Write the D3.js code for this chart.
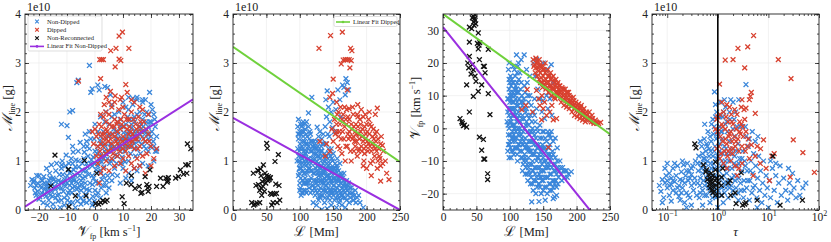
<!DOCTYPE html>
<html><head><meta charset="utf-8">
<script src="https://cdn.jsdelivr.net/npm/d3@7"></script>
<style>
body{margin:0;background:#fff;}
svg{display:block;}
text{font-family:"Liberation Serif","DejaVu Serif",serif;fill:#222;}
</style></head>
<body>
<svg id="chart" width="831" height="242"></svg>
<script>
// ---------------- DATA (M_line in units of 1e10 g) ----------------
// Panel 1: V_fp [km/s] vs M_line
const blueP1 = [[-22.5,0.62],[-22,0.57],[-21.5,0.45],[-21,0.3],[-20.5,0.38],[-20,0.22],[-19.5,0.5],[-19,0.35],[-18.5,0.15],[-18,0.42],[-17.5,0.28],[-17,0.55],[-16.5,0.2],[-16,0.65],[-15.5,0.38],[-15,0.12],[-14.5,0.48],[-14,0.8],[-13.5,0.3],[-13,0.6],[-12.5,0.05],[-12,0.45],[-11.5,0.72],[-11,0.25],[-10.5,0.9],[-10,0.55],[-9.5,0.35],[-9,0.75],[-8.5,1.05],[-8,0.15],[-7.5,0.6],[-7,0.88],[-6.5,0.42],[-6,1.2],[-5.5,0.7],[-5,0.25],[-4.5,0.95],[-4,1.3],[-3.5,0.55],[-3,0.8],[-2.5,1.1],[-2,0.4],[-1.5,1.45],[-1,0.9],[-0.5,0.65],[0,1.2],[0.5,0.3],[1,1.6],[1.5,1.0],[2,0.8],[2.5,1.35],[3,0.5],[3.5,1.8],[4,1.15],[4.5,0.7],[5,1.5],[5.5,1.0],[6,1.9],[6.5,1.25],[7,0.85],[7.5,1.6],[8,1.1],[8.5,2.0],[9,1.35],[9.5,0.95],[10,1.7],[10.5,1.2],[11,2.1],[11.5,1.45],[12,1.0],[12.5,1.85],[13,1.3],[13.5,2.15],[14,1.6],[14.5,1.1],[15,1.95],[15.5,1.4],[16,0.9],[16.5,1.75],[17,2.2],[17.5,1.3],[18,1.6],[18.5,2.0],[19,1.2],[19.5,1.8],[20,1.5],[20.5,2.05],[21,1.3],[21.5,1.7],[22,1.2],
[-23,0.5],[-21,0.5],[-19,0.6],[-17,0.4],[-15,0.65],[-13,0.45],[-11,0.55],[-9,0.5],[-7,0.7],[-5,0.6],[-3,0.95],[-1,0.7],[1,0.9],[3,1.05],[5,1.2],[7,1.3],[9,1.2],[11,1.4],[13,1.5],[15,1.6],[17,1.5],[19,1.7],
[-20,0.7],[-18,0.55],[-16,0.3],[-14,0.25],[-12,0.85],[-10,0.7],[-8,0.95],[-6,0.75],[-4,0.8],[-2,1.25],[0,0.95],[2,1.5],[4,1.45],[6,1.55],[8,1.45],[10,1.45],[12,1.6],[14,1.35],[16,1.55],[18,1.4],[20,1.8],
[-12,0.2],[-10,0.3],[-8,0.45],[-6,0.3],[-4,0.45],[-2,0.2],[0,0.4],[2,0.25],[-7,0.05],[-5,0.12],[-3,0.15],[-1,0.1],[1,0.55],[3,0.7],[5,0.45],[6,0.6],[8,0.7],[10,0.85],[12,0.75],[14,0.85],[-11,0.1],[-9,0.15],[4,0.35],[9,0.55],
[-6,1.0],[-4,1.05],[-2,1.6],[0,1.75],[2,1.9],[4,2.0],[6,2.15],[8,1.8],[10,2.2],[12,2.05],[14,1.9],[16,2.0],[18,2.25],[20,2.15],[21,1.95],[-8,1.3],[-3,1.4],[1,1.3],[3,1.6],[5,1.75],[7,1.95],[9,1.85],[11,1.75],[13,1.75],[15,2.25],[17,1.85],[19,1.45],[22,1.5],
[-21.8,0.6],[-17,0.1],[-14.8,0.02],[-12,1.75],[-10,1.72],[-9.5,1.48],[-9,2.0],[-8,2.03],[-6,2.65],[-6.5,2.6],[-3.5,1.55],[-2,2.95],[-1,2.47],[-1.5,2.4],[1,2.55],[1.5,2.45],[3.5,2.52],[4.5,2.5],[5.5,2.35],[12,2.3],[13.5,2.28],[15,2.3],[17,2.25],[19.5,2.4],[21.5,1.2],[22,1.25],
[15,0.8],[17,0.95],[19,0.9],[21,1.0],[11,0.65],[13,0.6],
[-21.3,0.35],[-20.8,0.7],[-19.7,0.27],[-19.2,0.45],[-18.3,0.68],[-17.8,0.32],[-17.3,0.85],[-16.7,0.48],[-16.2,0.75],[-15.6,0.92],[-15.2,0.28],[-14.7,0.62],[-14.2,0.42],[-13.7,0.95],[-13.2,0.18],[-12.7,0.72],[-12.2,0.58],[-11.7,1.0],[-11.3,0.38],[-10.8,0.62],[-10.3,1.12],[-9.8,0.2],[-9.3,0.95],[-8.8,0.62],[-8.3,0.35],[-7.8,1.18],[-7.3,0.48],[-6.8,1.02],[-6.3,0.18],[-5.8,0.88],[-5.3,1.38],[-4.8,0.52],[-4.3,0.65],[-3.8,1.18],[-3.3,0.32],[-2.8,1.3],[-2.3,0.72],[-1.8,0.55],[-1.3,1.02],[-0.8,0.28],[-0.3,1.45],[0.2,0.58],[0.7,1.15],[1.2,0.78],[1.7,1.42],[2.2,0.45],[2.7,1.1],[3.2,0.88],[3.7,1.3],[4.2,0.6],[4.7,1.52],[5.2,0.95],[5.7,1.28],[6.2,0.72],[6.7,1.65],[7.2,1.12],[7.7,0.95],[8.2,1.55],[8.7,1.25],[9.2,1.7],[9.7,1.08],[10.2,1.58],[10.7,0.98],[11.2,1.3],[11.7,1.9],[12.2,1.45],[12.7,1.15],[13.2,1.68],[13.7,1.4],[14.2,1.8],[14.7,1.5],[15.2,1.25],[15.7,1.7],[16.2,1.15],[16.7,1.35],[17.2,1.7],[17.7,1.95],[18.2,1.25],[18.7,1.55],[19.2,1.95],[19.7,1.3],[20.3,1.6],[20.8,1.4],[21.3,1.85],
[-20.5,0.55],[-18.8,0.6],[-17.6,0.48],[-16.4,0.6],[-15.4,0.52],[-14.1,0.58],[-12.9,0.32],[-11.9,0.92],[-10.6,0.48],[-9.6,0.82],[-8.6,0.78],[-7.6,0.82],[-6.6,0.58],[-5.6,0.5],[-4.6,0.82],[-3.6,0.68],[-2.6,0.88],[-1.6,0.95],[-0.6,1.08],[0.4,0.82],[1.4,1.18],[2.4,0.98],[3.4,1.2],[4.4,1.05],[5.4,1.35],[6.4,1.02],[7.4,1.45],[8.4,1.3],[9.4,1.45],[10.4,1.3],[11.4,1.55],[12.4,1.3],[13.4,1.55],[14.4,1.25],[15.4,1.5],[16.4,1.65],[17.4,1.6],[18.4,1.8],[19.4,1.55],
[-9,0.4],[-7.9,0.62],[-5,0.4],[-2.9,0.42],[-0.9,0.52],[1.1,0.35],[-4.2,0.18],[-0.2,0.18],[2.5,0.62],[3.8,0.5],[-6.1,0.45],[-8.4,0.55]];
const redP1 = [[9.8,3.63],[8.6,3.55],[5.6,3.25],[7.5,3.3],[12.1,3.3],[1.7,3.07],[2.4,3.07],[3.0,3.07],[8.6,3.08],[9.2,3.05],[7.2,2.92],[2.0,2.68],[-5.9,2.63],[11,2.56],[7.2,2.33],[5.5,2.42],[4,2.3],[3.3,2.15],[9,2.25],[14,2.2],[16,2.1],
[0.5,1.5],[1,1.3],[1.5,1.75],[2,1.1],[2.5,1.55],[3,1.9],[3.5,1.35],[4,1.65],[4.5,1.2],[5,1.95],[5.5,1.45],[6,1.7],[6.5,1.15],[7,1.85],[7.5,1.4],[8,1.6],[8.5,2.05],[9,1.3],[9.5,1.75],[10,1.5],[10.5,1.95],[11,1.2],[11.5,1.65],[12,1.85],[12.5,1.4],[13,2.0],[13.5,1.55],[14,1.25],[14.5,1.75],[15,1.45],[15.5,1.9],[16,1.3],[16.5,1.6],[17,1.1],[17.5,1.8],[18,1.4],[18.5,1.15],[19,1.55],[20,1.3],[21,1.05],[22,1.25],
[1,0.95],[2,0.75],[1.5,0.55],[3,0.85],[4,1.0],[5,0.8],[6,1.05],[7,0.9],[8,1.1],[9,0.95],[10,1.05],[11,0.8],[12,1.1],[13,0.95],[14,0.85],[15,1.05],[16,0.9],[18,0.75],[20,0.9],[19,1.95],[17,2.05],[10,2.1],[6,2.1],[4,1.8],[2,1.95],[0,1.65],[-1,1.6],[-0.5,1.35],[0.5,1.1],[3,1.45],[5,1.55],[7,1.5],[9,1.65],[11,1.45],[13,1.3],[6,1.35],[8,1.35],[10,1.25],[12,1.55],[8,1.8],[14,1.5],[16,1.7],[2,1.35],[4,1.45],
[1.2,1.55],[1.8,1.2],[2.3,1.7],[2.8,1.3],[3.3,1.55],[3.8,1.15],[4.3,1.6],[4.8,1.4],[5.3,1.75],[5.8,1.25],[6.3,1.55],[6.8,1.7],[7.3,1.25],[7.8,1.75],[8.3,1.45],[8.8,1.2],[9.3,1.85],[9.8,1.4],[10.3,1.7],[10.8,1.35],[11.3,1.85],[11.8,1.3],[12.3,1.7],[12.8,1.6],[13.3,1.4],[13.8,1.85],[14.3,1.45],[14.8,1.65],[15.3,1.25],[15.8,1.55],[16.3,1.8],[17.3,1.45],[18.3,1.65],[19.3,1.4],[9.5,2.3],[11.5,2.4],[13,2.25],[7,2.2],[5,2.2],[3.8,2.0]];
const blackP1 = [[-14.3,1.12],[-15.8,0.49],[-9.5,0.83],[-7,0.29],[-3.2,0.29],[-9.3,0.07],[-3.8,1.01],[0.6,0.75],[0.2,0.13],[1.3,0.12],[2,0.15],[2.8,0.19],[3.6,0.17],[4.3,0.2],[9.7,0.27],[10.4,0.13],[11.2,0.55],[13,0.7],[12.9,0.52],[14.3,0.44],[15.8,0.48],[16.4,0.34],[16.8,0.36],[17.9,0.68],[18.8,0.45],[19,0.38],[18.5,0.52],[19.6,0.82],[19.3,0.48],[22,0.48],[23.4,0.65],[24.3,0.48],[25.3,0.65],[26,0.6],[26.2,0.66],[25.8,0.57],[28.8,0.65],[29.8,0.68],[30.5,0.82],[31.6,0.73],[32.4,0.92],[33.3,0.92],[33,1.35],[34.2,1.25],[32.8,0.75]];
const fitNonDippedP1 = [[-25,0.07],[35,2.26]];

// Panel 2: L [Mm] vs M_line
const blueP2 = [[97,1.7],[98,1.45],[99,1.2],[100,0.95],[101,1.75],[102,1.55],[103,1.3],[104,1.05],[105,0.8],[106,1.6],[107,1.4],[108,1.15],[109,0.9],[110,1.8],[111,1.5],[112,1.25],[98,0.7],[100,0.55],[102,0.85],[104,0.6],[106,0.4],[108,0.65],[110,0.35],[112,0.55],[99,1.0],[101,1.25],[103,1.6],[105,1.5],[107,1.1],[109,1.35],[111,1.0],[100,1.6],[102,1.1],[104,1.4],[106,1.2],[108,0.95],[110,1.2],[97,1.25],[99,0.75],[101,0.45],[103,0.35],[105,1.8],[107,0.75],[109,0.55],[111,0.8],[113,1.7],[114,0.45],[96,1.0],
[113,1.3],[114,1.05],[115,0.85],[116,1.55],[117,0.65],[118,1.2],[119,0.4],[120,1.0],[121,1.4],[122,0.75],[123,0.3],[124,1.15],[125,0.55],[126,0.9],[127,1.3],[128,0.2],[129,0.7],[130,1.05],[131,0.45],[132,0.85],[133,1.2],[134,0.3],[135,0.6],[136,1.0],[137,0.15],[138,0.8],[139,1.35],[140,0.5],[141,0.95],[142,0.25],[143,0.7],[144,1.15],[145,0.4],[146,0.85],[147,0.1],[148,0.6],[149,1.0],[150,0.3],
[115,1.6],[117,1.4],[119,1.05],[121,0.6],[123,0.95],[125,1.25],[127,0.5],[129,1.1],[131,0.75],[133,0.55],[135,0.95],[137,0.65],[139,0.4],[141,0.7],[143,0.45],[145,0.95],[147,0.55],[149,0.35],
[116,0.35],[118,0.8],[120,0.5],[122,1.25],[124,0.85],[126,0.35],[128,0.95],[130,0.25],[132,1.3],[134,0.75],[136,0.4],[138,1.05],[140,0.85],[142,0.55],[144,0.3],[146,0.6],[148,0.85],[150,0.65],
[151,0.5],[152,0.2],[153,0.75],[154,0.4],[155,0.05],[156,0.6],[157,0.3],[158,0.5],[159,0.15],[160,0.7],[161,0.35],[162,0.55],[163,0.1],[164,0.45],[165,0.25],[166,0.6],[167,0.35],[168,0.05],[169,0.5],[170,0.2],[171,0.4],[172,0.3],[174,0.15],[175,0.45],[176,0.25],[178,0.35],[180,0.2],[182,0.3],[184,0.15],[186,0.25],[190,0.15],[195,0.05],[152,0.85],[155,0.9],[158,0.8],[160,0.95],[163,0.7],[166,0.75],[170,0.6],[173,0.55],[156,1.05],[150,1.15],[153,0.95],[147,1.25],
[118,2.3],[113,1.98],[126,1.69],[130,1.6],[135,1.55],[138,1.7],[140,1.9],[139,2.25],[141,2.43],[143,2.1],[145,1.8],[147,2.0],[149,1.68],[150,2.2],[152,1.6],[154,2.05],[157,2.45],[160,2.25],[164,2.55],[166,2.5],[169,2.68],[171,2.6],[173,2.45],[168,2.35],[162,1.9],[144,1.5],[136,1.35],[142,1.55],[133,1.45],[128,1.5],
[130,0.28],[133,0.01],[141,0.03],[180,0.2],[120,0.15],[125,0.1],
[97.5,1.55],[98.5,1.1],[99.5,0.85],[100.5,1.35],[101.5,0.65],[102.5,1.7],[103.5,0.95],[104.5,1.25],[105.5,0.55],[106.5,1.0],[107.5,1.75],[108.5,0.4],[109.5,1.55],[110.5,0.75],[111.5,1.35],[112.5,0.95],[98,1.85],[100,0.4],[102,0.3],[104,1.75],[106,0.75],[108,1.65],[110,0.55],[112,1.05],[99,1.55],[101,0.85],[103,1.1],[105,0.35],[107,0.55],[109,1.15],[111,0.6],[113,0.85],
[114,1.45],[115,0.6],[116,1.2],[117,0.95],[118,0.5],[119,1.3],[120,0.75],[121,1.15],[122,0.45],[123,1.3],[124,0.6],[125,1.0],[126,1.4],[127,0.75],[128,1.2],[129,0.4],[130,0.85],[131,1.2],[132,0.6],[133,0.9],[134,1.1],[135,0.4],[136,0.75],[137,1.15],[138,0.5],[139,0.85],[140,1.1],[141,0.35],[142,0.9],[143,1.25],[144,0.65],[145,0.2],[146,1.1],[147,0.75],[148,0.4],[149,0.8],[150,0.5],[151,0.85],[152,0.4],[153,0.6],[154,0.8],[155,0.35],[156,0.45],[157,0.7],[158,0.25],[159,0.6],[160,0.4],[161,0.55],[162,0.3],[164,0.65],[165,0.5],[167,0.55],[168,0.25],[170,0.45],[172,0.5],[174,0.35],[177,0.45],[179,0.3],[183,0.4],[188,0.3],
[116,0.8],[118,1.4],[120,1.3],[122,1.05],[124,0.4],[126,0.6],[128,0.7],[130,0.6],[132,0.3],[134,1.35],[136,0.55],[138,0.25],[140,0.7],[142,1.05],[144,0.85],[146,0.35],[148,1.05],[150,0.85],[152,0.65],[154,0.25],[156,0.85],[158,0.65],[160,0.2],[162,0.75],[164,0.3],[166,0.4],[145,0.65],[135,0.8],[125,0.8],[127,1.1],[133,0.7],[139,0.6]];
const redP2 = [[146,3.56],[163.7,3.63],[128.7,3.3],[176,3.3],[178,3.25],[165,3.06],[168,3.07],[171,3.07],[174,3.07],[177,3.05],[175,2.9],[162,2.98],[150,2.67],[171,2.45],[149,2.38],[145,2.3],[155,2.2],[161,2.1],[173.7,2.07],[186.7,2.15],[216,2.08],[213,1.95],[223.6,1.32],[217,1.0],[221,0.9],[233.5,0.62],[221,0.59],[207,0.7],[200,0.85],[195,0.9],[140,1.35],[145,1.2],[138,1.1],[150,1.4],[158,1.5],[130,1.4],
[152,1.85],[155,1.6],[158,2.0],[160,1.75],[162,1.45],[165,1.95],[167,1.7],[169,1.3],[170,2.05],[172,1.55],[174,1.85],[176,1.2],[178,1.65],[180,1.95],[182,1.4],[184,1.75],[186,1.1],[188,1.55],[190,1.85],[192,1.3],[194,1.65],[196,1.0],[198,1.45],[200,1.75],[202,1.2],[204,1.55],[206,0.95],[208,1.35],[210,1.65],[212,1.1],[214,1.4],[216,0.85],[218,1.25],[220,1.05],[222,1.5],[225,1.2],[228,1.0],[230,0.75],
[157,1.3],[163,1.15],[168,1.0],[173,1.45],[177,1.0],[181,1.2],[185,1.4],[189,1.25],[193,1.5],[197,1.15],[201,1.4],[205,1.3],[209,1.5],[213,1.25],[179,2.1],[183,1.6],[187,1.9],[191,1.6],[195,1.9],[199,1.55],[203,1.85],[207,1.7],[211,1.45],[215,1.6],[186,1.95],[192,2.05],[198,1.95],[204,2.0],[170,1.75],[175,1.5],[164,1.6],[160,1.25],[153,1.55],[148,1.65],[156,1.95],
[155,1.75],[159,1.6],[163,1.85],[166,1.45],[169,1.85],[171,1.3],[174,1.6],[177,1.75],[179,1.45],[181,1.7],[183,1.3],[185,1.55],[187,1.7],[189,1.45],[191,1.75],[193,1.2],[195,1.4],[197,1.7],[199,1.3],[201,1.6],[203,1.35],[205,1.75],[207,1.2],[209,1.0],[211,1.3],[213,1.55],[215,1.2],[217,1.45],[219,1.1],[221,1.35],[224,0.95],[196,1.25],[188,1.2],[180,1.5],[172,1.9],[167,2.1]];
const blackP2 = [[50.4,1.36],[51.4,1.26],[67.9,1.13],[62.9,0.99],[45.4,0.92],[41.4,0.84],[37,0.81],[30.4,0.75],[48,0.75],[50,0.7],[53,0.68],[55,0.65],[52,0.6],[47,0.62],[44,0.58],[49,0.55],[54,0.62],[56,0.66],[64,0.53],[68.9,0.5],[45,0.48],[42,0.45],[38,0.52],[34.4,0.5],[40,0.4],[47,0.38],[43,0.3],[58,0.32],[62,0.33],[65,0.34],[56,0.34],[60,0.15],[66,0.15],[70,0.2],[28,0.15],[31,0.1],[33,0.12],[36,0.14],[40,0.15],[58,0.1],[38,0.8],[42,0.7]];
const fitNonDippedP2 = [[0,1.88],[250,0.0]];
const fitDippedP2 = [[0,3.33],[250,0.98]];

// Panel 3: L [Mm] vs V_fp [km/s]
const blueP3 = [[97,5],[98,-2],[99,12],[100,8],[101,-6],[102,2],[103,15],[104,10],[105,-4],[106,4],[107,18],[108,0],[109,13],[110,7],[111,-8],[112,3],[113,20],[114,9],[97,-7],[99,0],[101,6],[103,-3],[105,11],[107,1],[109,-1],[111,14],[113,5],[98,9],[100,-4],[102,13],[104,-1],[106,8],[108,16],[110,-3],[112,11],[114,-5],[99,4],[101,16],[103,6],[105,1],[107,-6],[109,9],[111,3],[113,-2],[100,14],[102,-9],[104,4],[106,-8],[108,6],[110,12],[112,-6],[96,2],[98,18],[110,22.5],[99,20],[105,19],[115,17],[117,21],[121.5,22.5],[112,19],
[115,0],[116,-4],[117,8],[118,-7],[119,4],[120,-1],[121,-10],[122,6],[123,-3],[124,-12],[125,2],[126,-6],[127,10],[128,-9],[129,-2],[130,-14],[131,4],[132,-7],[133,-11],[134,0],[135,-4],[136,-16],[137,-8],[138,2],[139,-12],[140,-5],[141,-18],[142,-1],[143,-9],[144,-14],[145,-3],[146,-7],[147,-20],[148,-11],[149,-5],[150,-16],
[115,6],[117,-2],[119,-9],[121,3],[123,-6],[125,-10],[127,-1],[129,-13],[131,-4],[133,-8],[135,-13],[137,-2],[139,-16],[141,-9],[143,-5],[145,-12],[147,-15],[149,-8],[116,12],[118,3],[120,-5],[122,-8],[124,1],[126,-14],[128,-4],[130,-7],[132,-1],[134,-10],[136,-5],[138,-14],[140,-10],[142,-6],[144,-17],[146,-13],[148,-3],[150,-9],[118,10],[120,8],[125,6],[128,8],[122,13],[130,10],[135,5],[126,4],[132,7],
[151,-13],[152,-18],[153,-6],[154,-10],[155,-15],[156,-20],[157,-8],[158,-12],[159,-17],[160,-5],[161,-10],[162,-14],[163,-19],[164,-7],[165,-11],[166,-16],[167,-21],[168,-9],[169,-13],[170,-18],[171,-6],[172,-12],[173,-15],[175,-10],[177,-14],[179,-12],[182,-15],[185,-13],[188,-14],[192,-13.3],[155,-4],[158,-2],[162,-1],[165,-4],[168,-3],[170,-20.5],[165,-21.5],[160,-19],[143.7,-22.4],[132.8,-22.5],[153,-22],[158,-9],[151,-1],
[145,9],[150,8.5],[155,10],[160,9],[148,5],[152,3],[157,6],[163,4],[160,-2],[140,6],[137,9],[142,12],[130,16],[125,18],[135,20],[140,21],[145,19],[150,20],[155,18],[158,16],[162,19.5],[138,16],[165,14],
[97.5,1],[98.5,6],[99.5,-5],[100.5,10],[101.5,3],[102.5,-7],[103.5,8],[104.5,-3],[105.5,14],[106.5,0],[107.5,5],[108.5,-4],[109.5,11],[110.5,2],[111.5,-10],[112.5,7],[113.5,15],[114.5,-1],[98,-5],[100,2],[102,9],[104,14],[106,-2],[108,10],[110,-6],[112,0],[114,4],[99,-9],[101,11],[103,1],[105,-7],[107,12],[109,4],[111,8],[113,-5],[97,9],[99,15],[101,-2],[103,10],[105,6],[107,-3],[109,-6],[111,17],[113,11],
[115,-7],[116,2],[117,-9],[118,-3],[119,7],[120,-11],[121,-4],[122,0],[123,-9],[124,5],[125,-5],[126,-11],[127,-7],[128,1],[129,-6],[130,-11],[131,-1],[132,-15],[133,-4],[134,-13],[135,-8],[136,-1],[137,-12],[138,-7],[139,-3],[140,-15],[141,-6],[142,-12],[143,-17],[144,-8],[145,-15],[146,-10],[147,-6],[148,-16],[149,-13],[150,-6],[151,-10],[152,-15],[153,-12],[154,-7],[155,-18],[156,-12],[157,-15],[158,-6],[159,-11],[160,-14],[161,-17],[162,-9],[163,-12],[164,-16],[165,-8],[166,-13],[167,-17],[168,-11],[169,-16],[170,-14],[171,-10],[172,-17],[174,-13],[176,-12],[178,-16],[180,-13],[183,-13],[186,-15],[119,-13],[123,-14],[127,-16],[131,-17],[135,-19],[139,-20],[145,-18],[150,-19],[155,-11],[160,-8],[165,-18],[121,9],[123,11],[117,14],[119,-5],[129,3],[133,2],[137,4],[141,0],[145,1],[149,-1],[153,-3],[157,-1],[161,-3],[126,14],[128,-12],[134,-17]];
const redP3 = [[135,21],[137,19.5],[138,17],[140,20],[141,16],[142,18.5],[144,15],[145,19.5],[146,17],[148,14],[149,18],[150,16],[152,13.5],[153,17],[154,15],[156,12.5],[157,16],[158,14],[160,11.5],[161,15],[162,13],[164,12],[165,14.5],[166,10.5],[168,13],[169,11],[170,12.5],[172,10],[173,12],[174,11],[176,9.5],[177,11.5],[178,10.5],[180,12],[181,9],[182,10.5],[184,8.5],[185,11],[186,9.5],[188,7.5],[189,10],[190,8],[192,7],[193,9],[194,8],[196,6],[197,7.5],[198,6.5],[200,5.5],[201,7],[202,6],[204,4.5],[205,6],[206,5],[208,4],[209,5.5],[210,4],[212,3.5],[213,4.5],[215,3],[216,4],[218,2.5],[220,3.5],[222,2],[224,3],[226,1.5],[228,2.5],[230,1.5],[233,1.5],[236,1.8],
[139,21.5],[143,20],[147,19],[151,18],[155,17.5],[159,16],[163,15.5],[167,14],[171,13.5],[175,13],[179,12],[183,12],[187,11],[191,9.5],[195,9.5],[199,8],[203,7.5],[207,7],[211,6],[215,5],[219,5],[223,4],[177,8],[181,7],[185,6.5],[189,6],[193,5],[197,4],[201,3.5],[205,3],[209,2.5],[213,2],
[140,11.6],[126,11.9],[118,5.7],[150,6],[147.6,2.6],[165,2.6],[157.7,-5.8],[145,7],[152,8],[148,10],[160,5],[163,7],[155,4],[168,9],[143,9],[134,5],[124,7],[170,3],
[136,19],[139,18.5],[141,20.5],[143,17.5],[144,21],[147,15.5],[150,19],[151,14.5],[153,20],[155,14],[157,18],[159,13],[161,17],[163,12.5],[165,16],[167,12],[169,15],[171,11],[172,14],[174,13],[176,11],[178,12.5],[180,10],[183,9.5],[186,8],[188,11],[191,8.5],[194,7],[196,8.5],[199,6.5],[203,5.5],[206,6.5],[210,5],[214,3.5],[217,3],[221,2.5],[225,2],[229,2],[146,14],[149,12.5],[154,12],[158,11],[162,10],[167,9.5]];
const blackP3 = [[45.4,34.3],[47,33.5],[48,33],[46,32.5],[49,32],[44,33.8],[47.5,34.8],[46.5,31.5],[39.5,31],[43,30.5],[52.8,29.2],[39.5,26.4],[51.5,26],[54,25.5],[55,26.2],[52.8,24.3],[67.8,24.2],[39.5,22],[37,20],[54.5,21],[44,19.5],[60.5,19],[62,19],[38.5,18.5],[45.4,17.9],[42,16.6],[48,16],[63,17],[49.4,14.4],[57.9,13.3],[35.4,13.3],[52.8,11.3],[45.4,9.8],[67.8,10.6],[39.5,5],[70.3,4.2],[25.5,3],[28,2],[29,1.5],[30.5,0.8],[32,1],[35.4,0.4],[54.5,-2.7],[57.9,-6.7],[60.5,-3.4],[61,-9.4],[62.5,-9.4],[66.8,-13.9],[66.8,-15.7]];
const fitNonDippedP3 = [[0,31],[250,-32.7]];
const fitDippedP3 = [[0,35],[250,-1.8]];

// Panel 4: tau vs M_line
const blueP4 = [[0.07,0.5],[0.075,0.38],[0.08,0.62],[0.085,0.25],[0.09,0.55],[0.095,0.7],[0.1,0.45],[0.1,0.6],[0.11,0.3],[0.11,0.75],[0.12,0.52],[0.12,0.65],[0.13,0.4],[0.13,0.85],[0.14,0.58],[0.15,0.7],[0.15,0.35],[0.16,0.9],[0.17,0.5],[0.18,0.62],[0.18,0.2],[0.19,0.78],[0.2,0.45],[0.21,0.92],[0.22,0.55],[0.23,0.7],[0.24,0.35],[0.25,0.95],[0.26,0.6],[0.27,0.8],[0.28,0.25],[0.3,0.5],[0.3,0.72],[0.32,0.9],[0.33,0.4],[0.35,0.65],[0.36,1.0],[0.38,0.3],[0.1,0.95],[0.08,0.15],[0.12,0.18],[0.22,0.15],[0.17,0.28],[0.14,0.95],[0.09,0.85],[0.26,0.3],[0.2,1.0],
[0.4,0.55],[0.41,0.8],[0.42,1.1],[0.43,0.25],[0.45,0.65],[0.46,0.95],[0.48,1.3],[0.5,0.4],[0.5,0.75],[0.52,1.05],[0.54,1.45],[0.55,0.5],[0.56,0.85],[0.58,1.2],[0.6,0.3],[0.6,0.65],[0.62,1.0],[0.64,1.6],[0.65,0.45],[0.67,0.8],[0.68,1.25],[0.7,0.15],[0.7,0.6],[0.72,0.95],[0.74,1.4],[0.75,1.75],[0.77,0.35],[0.78,0.7],[0.8,1.1],[0.82,1.55],[0.84,0.5],[0.86,0.85],[0.88,1.3],[0.9,1.9],[0.92,0.25],[0.94,0.65],[0.96,1.05],[0.98,1.6],[0.86,2.41],[0.55,1.75],[0.45,1.4],[0.62,1.3],[0.9,2.15],[0.95,2.0],
[1.02,0.4],[1.05,0.8],[1.08,1.2],[1.1,1.7],[1.12,2.2],[1.15,0.3],[1.18,0.65],[1.2,1.0],[1.22,1.45],[1.25,1.9],[1.28,0.15],[1.3,0.55],[1.33,0.9],[1.36,1.3],[1.4,1.75],[1.42,2.1],[1.45,0.45],[1.5,0.75],[1.52,1.15],[1.55,1.6],[1.6,0.25],[1.62,0.6],[1.65,1.0],[1.7,1.4],[1.75,1.85],[1.8,2.25],[1.85,0.5],[1.9,0.85],[1.95,1.25],[2.0,1.65],[2.05,0.3],[2.1,0.7],[2.15,1.1],[2.2,1.5],[2.25,2.0],[2.3,0.45],[2.4,0.9],[2.5,1.35],[2.55,0.2],[2.6,0.65],[2.7,1.05],[2.8,1.7],[2.9,0.4],[3.0,0.8],[1.15,1.6],[1.35,2.25],[2.0,2.2],[2.6,2.25],
[3.1,1.2],[3.2,0.25],[3.3,0.6],[3.4,1.0],[3.6,2.56],[3.6,1.5],[3.7,0.45],[3.8,0.8],[4.0,1.3],[4.2,0.2],[4.3,0.6],[4.5,1.0],[4.7,0.35],[4.9,0.75],[5.1,1.15],[5.4,0.5],[5.6,0.9],[5.9,0.25],[6.1,0.65],[6.4,1.1],[6.7,0.4],[7.0,0.8],[7.4,0.15],[7.7,0.55],[8.0,1.0],[8.5,0.3],[9.0,0.7],[9.5,0.45],[3.5,1.7],[4.2,1.45],[4.8,1.6],[5.5,1.4],[6.2,1.5],
[10.5,0.6],[11,0.25],[12,0.85],[13,0.4],[14,0.7],[15,0.15],[16,0.55],[17,0.9],[18,0.3],[20,0.65],[22,0.4],[24,0.2],[26,0.55],[28,0.35],[30,0.75],[35,0.25],[38,0.6],[42,0.3],[48,0.45],[55,0.55],[14,0.95],[11,1.0],[25,0.85],[32,0.45],
[0.3,0.1],[0.5,0.1],[1.0,0.05],[6,0.05],[10,0.05],[0.24,0.05],
[0.45,0.35],[0.48,0.85],[0.5,1.15],[0.52,0.6],[0.55,0.3],[0.58,0.95],[0.6,1.35],[0.62,0.55],[0.65,0.75],[0.67,1.1],[0.7,0.4],[0.72,1.2],[0.75,0.85],[0.78,0.25],[0.8,0.55],[0.82,0.95],[0.85,1.2],[0.88,0.4],[0.9,0.7],[0.93,1.45],[0.96,0.3],[1.0,1.1],[1.05,0.55],[1.1,1.35],[1.15,0.9],[1.2,0.45],[1.25,1.15],[1.3,0.7],[1.35,0.35],[1.4,1.0],[1.45,1.25],[1.5,0.55],[1.6,0.85],[1.7,0.45],[1.8,1.15],[1.9,0.65],[2.0,0.4],[2.1,0.95],[2.2,0.6],[2.35,1.2],[2.5,0.35],[2.6,0.95],[2.8,0.55],[3.0,1.05],[3.3,0.4],[3.5,0.9],[3.9,0.6],[4.4,0.8],[5,0.45],[0.3,0.85],[0.34,0.55],[0.28,0.65],[0.24,0.8],[0.2,0.6],[0.16,0.45],[0.13,0.6],[0.11,0.5],[0.19,0.35],[0.4,0.95],[0.44,0.5],[1.0,1.5],[1.1,1.9],[1.2,1.6],[1.3,2.0],[1.5,1.8],[1.7,2.0],[0.85,1.7],[0.8,1.85],[0.7,1.5],[2.1,1.85],[2.4,1.7],[0.55,1.05]];
const redP4 = [[5.1,3.56],[3.9,3.33],[2.5,3.3],[1.4,3.06],[2.0,3.07],[15.7,3.07],[3.4,2.9],[28,2.68],[1.08,2.57],[31,1.43],[48,1.17],[81,0.77],[27,0.67],[5.5,1.97],[4.4,2.32],[4.6,2.4],[4.2,2.25],[8,1.43],[11.7,1.1],[6.9,0.95],[5,0.7],[10.5,0.6],[13,1.15],[9,0.85],[6,1.3],[7,1.25],[5.5,1.1],[4.6,1.33],[3.3,2.05],[3.6,2.08],[3,2.25],
[0.95,1.85],[1.0,1.6],[1.05,1.3],[1.1,1.95],[1.12,1.5],[1.15,1.15],[1.2,1.75],[1.25,1.4],[1.3,2.0],[1.35,1.2],[1.4,1.65],[1.45,1.9],[1.5,1.35],[1.55,1.1],[1.6,1.8],[1.65,1.5],[1.7,2.1],[1.75,1.25],[1.8,1.6],[1.85,1.95],[1.9,1.4],[1.95,1.15],[2.0,1.75],[2.1,1.5],[2.15,2.05],[2.2,1.3],[2.3,1.65],[2.4,1.95],[2.5,1.45],[2.6,1.2],[2.7,1.8],[2.8,1.55],[2.9,2.1],[3.0,1.3],[3.1,1.7],[3.2,1.5],[3.4,1.85],[3.6,1.6],[3.8,1.3],[4.0,1.45],[4.2,1.05],[1.1,1.05],[1.3,0.95],[1.5,0.85],[1.8,1.0],[2.2,0.9],[2.6,0.85],[3.0,0.95],[2.4,0.7],[1.2,2.2],[1.5,2.15],[1.0,1.9],[0.95,1.25],[0.9,1.65],[1.25,1.7],[1.6,1.2],[1.9,1.8],[2.3,1.4],[2.7,1.6],[1.4,1.45],[1.7,1.55],[2.0,1.25],[3.5,1.2],[2.9,1.75]];
const blackP4 = [[0.35,1.35],[0.37,1.27],[0.52,0.92],[0.6,0.82],[0.66,0.72],[0.7,0.65],[0.72,0.58],[0.75,0.62],[0.78,0.55],[0.8,0.7],[0.82,0.48],[0.7,0.45],[0.76,0.4],[0.85,0.38],[0.88,0.6],[0.9,0.82],[0.9,0.98],[0.92,0.5],[0.68,0.52],[0.74,0.75],[0.8,0.35],[0.95,0.65],[1.19,0.67],[1.18,0.5],[1.2,0.3],[0.9,0.3],[1.25,0.85],[2.2,0.35],[1.8,0.3],[2.3,0.13],[2.9,0.76],[3.1,0.1],[3.4,0.12],[3.6,0.15],[12.3,1.1],[17,0.1],[47,0.2],[6,0.2],[1.6,0.55],[1.75,0.6],[0.62,0.62],[0.58,0.78],[1.05,0.55]];
const tauThreshold = 1;

// Axis ticks
const yTicksM = [0,1,2,3,4];
const xTicksV = [-20,-10,0,10,20,30];
const xTicksL = [0,50,100,150,200,250];
const yTicksV = [-20,-10,0,10,20,30];
const xTicksTau = [0.1,1,10,100];

const legendLabels1 = ["Non-Dipped","Dipped","Non-Reconnected","Linear Fit Non-Dipped"];
const legendLabels2 = ["Linear Fit Dipped"];

// ---------------- STYLE ----------------
const C = {blue:"#3a86da", red:"#d8412f", black:"#111111", purple:"#9a2fe0", green:"#6fd13b"};
const TOP = 14, BOT = 210;
const svg = d3.select("#chart");
const xMark = "M-2.4,-2.4L2.4,2.4M-2.4,2.4L2.4,-2.4";

function range(a,b,s){const r=[];for(let v=a;v<=b+1e-9;v+=s)r.push(+v.toFixed(6));return r;}

function panel(cfg, idx){
  const x = cfg.log ? d3.scaleLog().domain(cfg.xDom).range([cfg.left,cfg.right])
                    : d3.scaleLinear().domain(cfg.xDom).range([cfg.left,cfg.right]);
  const y = d3.scaleLinear().domain(cfg.yDom).range([BOT,TOP]);
  const g = svg.append("g");
  const cid = "clip"+idx;
  g.append("clipPath").attr("id",cid).append("rect")
    .attr("x",cfg.left).attr("y",TOP).attr("width",cfg.right-cfg.left).attr("height",BOT-TOP);
  const grid = g.append("g").attr("stroke","#ececec").attr("stroke-width",0.7);
  cfg.xTicks.forEach(t=>{ if(x(t)>cfg.left+1 && x(t)<cfg.right-1) grid.append("line").attr("x1",x(t)).attr("x2",x(t)).attr("y1",TOP).attr("y2",BOT);});
  cfg.yTicks.forEach(t=>{ if(y(t)>TOP+1 && y(t)<BOT-1) grid.append("line").attr("x1",cfg.left).attr("x2",cfg.right).attr("y1",y(t)).attr("y2",y(t));});

  const pts = g.append("g").attr("clip-path",`url(#${cid})`);
  const drawSet = (data,color)=>{
    pts.append("g").attr("stroke",color).attr("stroke-width",1.3).attr("fill","none")
      .selectAll("path").data(data).join("path")
      .attr("d",xMark).attr("transform",d=>`translate(${x(d[0])},${y(d[1])})`);
  };
  drawSet(cfg.blue,C.blue); drawSet(cfg.red,C.red); drawSet(cfg.black,C.black);
  const line = d3.line().x(d=>x(d[0])).y(d=>y(d[1]));
  (cfg.fits||[]).forEach(f=>{
    pts.append("path").attr("d",line(f.data)).attr("stroke",f.color).attr("stroke-width",2).attr("fill","none");
  });
  if(cfg.vline){
    pts.append("line").attr("x1",x(cfg.vline)).attr("x2",x(cfg.vline)).attr("y1",TOP).attr("y2",BOT)
      .attr("stroke","#000").attr("stroke-width",1.6);
  }

  const styleAxis = sel=>{ sel.select(".domain").remove(); sel.selectAll(".tick line").attr("stroke","#222").attr("stroke-width",0.8);
    sel.selectAll("text").attr("font-family","Liberation Serif, serif").attr("font-size",11.5).attr("fill","#222"); };
  const bx = g.append("g").attr("transform",`translate(0,${BOT})`)
     .call(d3.axisBottom(x).tickValues(cfg.xTicks).tickSize(-4).tickPadding(3).tickFormat(cfg.xFmt||d3.format("d"))).call(styleAxis);
  g.append("g").attr("transform",`translate(0,${BOT})`).call(d3.axisBottom(x).tickValues(cfg.xMinor).tickSize(-2).tickFormat("")).call(styleAxis);
  g.append("g").attr("transform",`translate(0,${TOP})`).call(d3.axisTop(x).tickValues(cfg.xTicks).tickSize(-4).tickFormat("")).call(styleAxis);
  g.append("g").attr("transform",`translate(0,${TOP})`).call(d3.axisTop(x).tickValues(cfg.xMinor).tickSize(-2).tickFormat("")).call(styleAxis);
  g.append("g").attr("transform",`translate(${cfg.left},0)`)
     .call(d3.axisLeft(y).tickValues(cfg.yTicks).tickSize(-4).tickPadding(4).tickFormat(d3.format("d"))).call(styleAxis);
  g.append("g").attr("transform",`translate(${cfg.left},0)`).call(d3.axisLeft(y).tickValues(cfg.yMinor).tickSize(-2).tickFormat("")).call(styleAxis);
  g.append("g").attr("transform",`translate(${cfg.right},0)`).call(d3.axisRight(y).tickValues(cfg.yTicks).tickSize(-4).tickFormat("")).call(styleAxis);
  g.append("g").attr("transform",`translate(${cfg.right},0)`).call(d3.axisRight(y).tickValues(cfg.yMinor).tickSize(-2).tickFormat("")).call(styleAxis);
  if(cfg.log){
    bx.selectAll(".tick text").each(function(d){
      const t=d3.select(this).text(null);
      t.append("tspan").text("10");
      t.append("tspan").attr("dy",-5).attr("font-size",8).text(d3.format("d")(Math.round(Math.log10(d))).replace("-","−"));
    });
  }
  g.append("rect").attr("x",cfg.left).attr("y",TOP).attr("width",cfg.right-cfg.left).attr("height",BOT-TOP)
    .attr("fill","none").attr("stroke","#222").attr("stroke-width",0.9);
  if(cfg.offset){
    g.append("text").attr("x",cfg.left+2).attr("y",11).attr("font-size",12).text("1e10");
  }
  const cx=(cfg.left+cfg.right)/2;
  const xl = g.append("text").attr("x",cx).attr("y",236).attr("text-anchor","middle").attr("font-size",12.5);
  cfg.xLabel(xl);
  const yl = g.append("text").attr("transform",`translate(${cfg.yLabX},108) rotate(-90)`).attr("text-anchor","middle").attr("font-size",12.5);
  cfg.yLabel(yl);
  return {x,y,g};
}

function labM(t){ t.append("tspan").attr("font-style","italic").attr("font-size",14).text("ℳ");
  t.append("tspan").attr("font-size",8).attr("dy",3).text("line");
  t.append("tspan").attr("dy",-3).text(" [g]"); }
function labV(t){ t.append("tspan").attr("font-size",14).text("𝒱");
  t.append("tspan").attr("font-size",8).attr("dy",3).text("fp");
  t.append("tspan").attr("dy",-3).text(" [km s");
  t.append("tspan").attr("font-size",8).attr("dy",-5).text("−1");
  t.append("tspan").attr("dy",5).text("]"); }
function labL(t){ t.append("tspan").attr("font-size",14).text("ℒ"); t.append("tspan").text(" [Mm]"); }
function labTau(t){ t.append("tspan").attr("font-style","italic").attr("font-size",13).text("τ"); }

const yMinorM = range(0,4,0.2);

panel({left:25,right:193,xDom:[-25,35],yDom:[0,4],xTicks:xTicksV,xMinor:range(-24,34,2),yTicks:yTicksM,yMinor:yMinorM,
  blue:blueP1,red:redP1,black:blackP1,fits:[{data:fitNonDippedP1,color:C.purple}],offset:true,xLabel:labV,yLabel:labM,yLabX:12},1);
panel({left:233,right:400,xDom:[0,250],yDom:[0,4],xTicks:xTicksL,xMinor:range(0,250,10),yTicks:yTicksM,yMinor:yMinorM,
  blue:blueP2,red:redP2,black:blackP2,fits:[{data:fitNonDippedP2,color:C.purple},{data:fitDippedP2,color:C.green}],offset:true,xLabel:labL,yLabel:labM,yLabX:219},2);
panel({left:443,right:610,xDom:[0,250],yDom:[-25,35],xTicks:xTicksL,xMinor:range(0,250,10),yTicks:yTicksV,yMinor:range(-24,34,2),
  blue:blueP3,red:redP3,black:blackP3,fits:[{data:fitNonDippedP3,color:C.purple},{data:fitDippedP3,color:C.green}],offset:false,xLabel:labL,yLabel:labV,yLabX:420},3);
const tauMinor = [0.05,0.06,0.07,0.08,0.09,0.2,0.3,0.4,0.5,0.6,0.7,0.8,0.9,2,3,4,5,6,7,8,9,20,30,40,50,60,70,80,90];
panel({left:652,right:819,log:true,xDom:[0.05,100],yDom:[0,4],xTicks:xTicksTau,xMinor:tauMinor,yTicks:yTicksM,yMinor:yMinorM,
  blue:blueP4,red:redP4,black:blackP4,vline:tauThreshold,offset:true,xLabel:labTau,yLabel:labM,yLabX:639},4);

function legend(x0,y0,w,h,items){
  const lg = svg.append("g");
  lg.append("rect").attr("x",x0).attr("y",y0).attr("width",w).attr("height",h).attr("rx",1.5)
    .attr("fill","#fff").attr("fill-opacity",0.9).attr("stroke","#d0d0d0").attr("stroke-width",0.7);
  items.forEach((it,i)=>{
    const yy = y0+5.5+i*8.3;
    if(it.type==="x"){
      lg.append("path").attr("d","M-1.8,-1.8L1.8,1.8M-1.8,1.8L1.8,-1.8").attr("transform",`translate(${x0+9},${yy})`)
        .attr("stroke",it.color).attr("stroke-width",1.1).attr("fill","none");
    } else {
      lg.append("line").attr("x1",x0+2).attr("x2",x0+16).attr("y1",yy).attr("y2",yy).attr("stroke",it.color).attr("stroke-width",1.6);
      lg.append("circle").attr("cx",x0+9).attr("cy",yy).attr("r",1.3).attr("fill",it.color);
    }
    lg.append("text").attr("x",x0+19).attr("y",yy+2).attr("font-size",6.5).text(it.label);
  });
}
legend(28,16,74,35,[{type:"x",color:C.blue,label:legendLabels1[0]},{type:"x",color:C.red,label:legendLabels1[1]},
  {type:"x",color:C.black,label:legendLabels1[2]},{type:"line",color:C.purple,label:legendLabels1[3]}]);
legend(334,16.5,63,10,[{type:"line",color:C.green,label:legendLabels2[0]}]);
</script>
</body></html>
